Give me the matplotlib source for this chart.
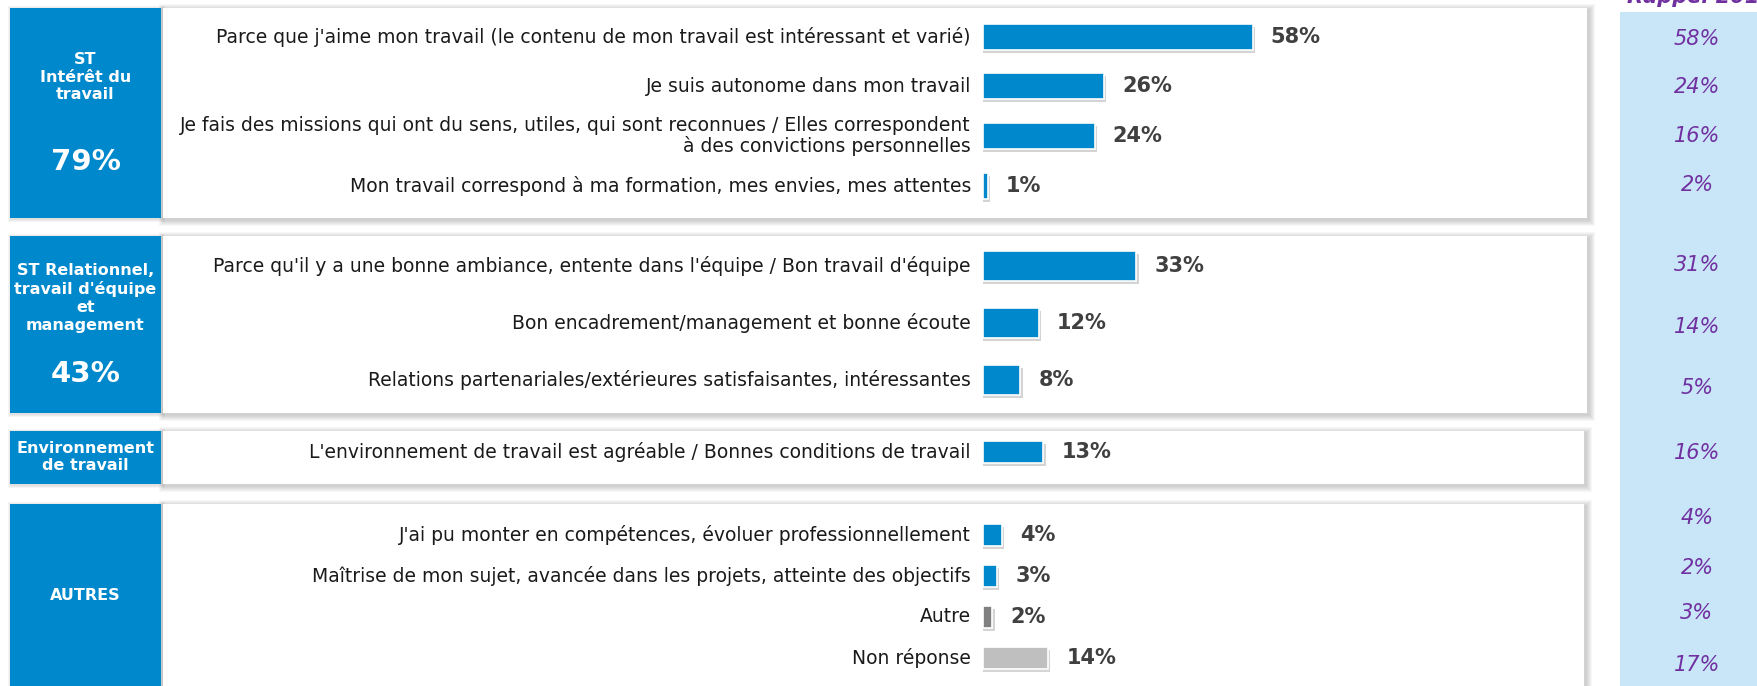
import matplotlib
matplotlib.use("Agg")
import matplotlib.pyplot as plt
from matplotlib.patches import Rectangle

plt.rcParams['font.family'] = ['DejaVu Sans']

# --- data ---
group_titles = ["ST\nIntérêt du\ntravail", "ST Relationnel,\ntravail d'équipe\net\nmanagement",
                "Environnement\nde travail", "AUTRES"]
group_totals = ["79%", "43%", "", ""]

labels = [
    "Parce que j'aime mon travail (le contenu de mon travail est intéressant et varié)",
    "Je suis autonome dans mon travail",
    "Je fais des missions qui ont du sens, utiles, qui sont reconnues / Elles correspondent\nà des convictions personnelles",
    "Mon travail correspond à ma formation, mes envies, mes attentes",
    "Parce qu'il y a une bonne ambiance, entente dans l'équipe / Bon travail d'équipe",
    "Bon encadrement/management et bonne écoute",
    "Relations partenariales/extérieures satisfaisantes, intéressantes",
    "L'environnement de travail est agréable / Bonnes conditions de travail",
    "J'ai pu monter en compétences, évoluer professionnellement",
    "Maîtrise de mon sujet, avancée dans les projets, atteinte des objectifs",
    "Autre",
    "Non réponse",
]
values_2021 = [58, 26, 24, 1, 33, 12, 8, 13, 4, 3, 2, 14]
rappel_2019 = [58, 24, 16, 2, 31, 14, 5, 16, 4, 2, 3, 17]
row_kind = ["main"] * 10 + ["autre", "nr"]

# --- layout (pixels) ---
W, H = 1758, 686
BLUE = "#0088CC"
PURPLE = "#7030A0"
bar_colors = {"main": BLUE, "autre": "#808080", "nr": "#BFBFBF"}
row_y = [37, 86, 136, 186, 266, 323, 380, 452, 535, 576, 617, 658]
row_h = [26, 26, 26, 26, 30, 30, 30, 22, 22, 22, 22, 22]
rappel_y = [39, 87, 136, 185, 265, 327, 388, 453, 518, 568, 613, 665]
panels = [(8, 218, 1587), (236, 413, 1587), (431, 484, 1584), (504, 700, 1584)]
title_y = [77, 298, 457, 596]
total_y = [162, 374, None, None]
bar_x0 = 983
px_per_pct = 4.65

fig = plt.figure(figsize=(W / 100, H / 100), dpi=100)
ax = fig.add_axes([0, 0, 1, 1])
ax.set_xlim(0, W)
ax.set_ylim(H, 0)
ax.axis("off")


def soft_shadow(x0, y0, x1, y1, off=2, steps=6, alpha=0.03):
    for i in range(steps, 0, -1):
        ax.add_patch(Rectangle((x0 - i + off, y0 - i + off), (x1 - x0) + 2 * i,
                               (y1 - y0) + 2 * i, facecolor="black", alpha=alpha, lw=0, zorder=1))


# light blue column for 2019 reminder (header is cut at the top, as in the source)
ax.add_patch(Rectangle((1620, 12), W - 1620, H, facecolor="#C9E6F8", lw=0, zorder=0))
ax.text(1700, 3, "Rappel 2019", color=PURPLE, fontsize=15, fontweight="bold",
        fontstyle="italic", ha="center", va="baseline", zorder=5)

for (top, bot, right), title, total, ty, tot_y in zip(panels, group_titles, group_totals,
                                                      title_y, total_y):
    soft_shadow(163, top, right, bot)
    ax.add_patch(Rectangle((163, top), right - 163, bot - top, facecolor="white", lw=0, zorder=2))
    soft_shadow(10, top, 161, bot, off=1, steps=3, alpha=0.04)
    ax.add_patch(Rectangle((10, top), 151, bot - top, facecolor=BLUE, lw=0, zorder=3))
    ax.text(85.5, ty, title, color="white", fontsize=11.5, fontweight="bold",
            ha="center", va="center", linespacing=1.22, zorder=4)
    if total:
        ax.text(85.5, tot_y, total, color="white", fontsize=21, fontweight="bold",
                ha="center", va="center", zorder=4)

for lab, y in zip(labels, row_y):
    ax.text(971, y, lab, fontsize=13.5, color="#1a1a1a", ha="right", va="center",
            multialignment="right", linespacing=1.12, zorder=4)

for v, y in zip(rappel_2019, rappel_y):
    ax.text(1697, y, f"{v}%", fontsize=15, color=PURPLE, fontstyle="italic",
            ha="center", va="center", zorder=4)

# bars in percent units
bx = fig.add_axes([bar_x0 / W, 0, (W - bar_x0) / W, 1])
bx.set_xlim(0, (W - bar_x0) / px_per_pct)
bx.set_ylim(H, 0)
bx.axis("off")
bx.patch.set_alpha(0)

colors = [bar_colors[k] for k in row_kind]
bx.barh([y + 3 for y in row_y], [v + 0.5 for v in values_2021], height=row_h,
        color="#d4d4d4", lw=0, zorder=2)
bx.barh(row_y, values_2021, height=row_h, color=colors, edgecolor="white", lw=1.2, zorder=3)
for v, y in zip(values_2021, row_y):
    bx.text(v + 3.9, y, f"{v}%", fontsize=15, fontweight="bold", color="#404040",
            ha="left", va="center", zorder=4)

fig.savefig("out.png", dpi=100)
